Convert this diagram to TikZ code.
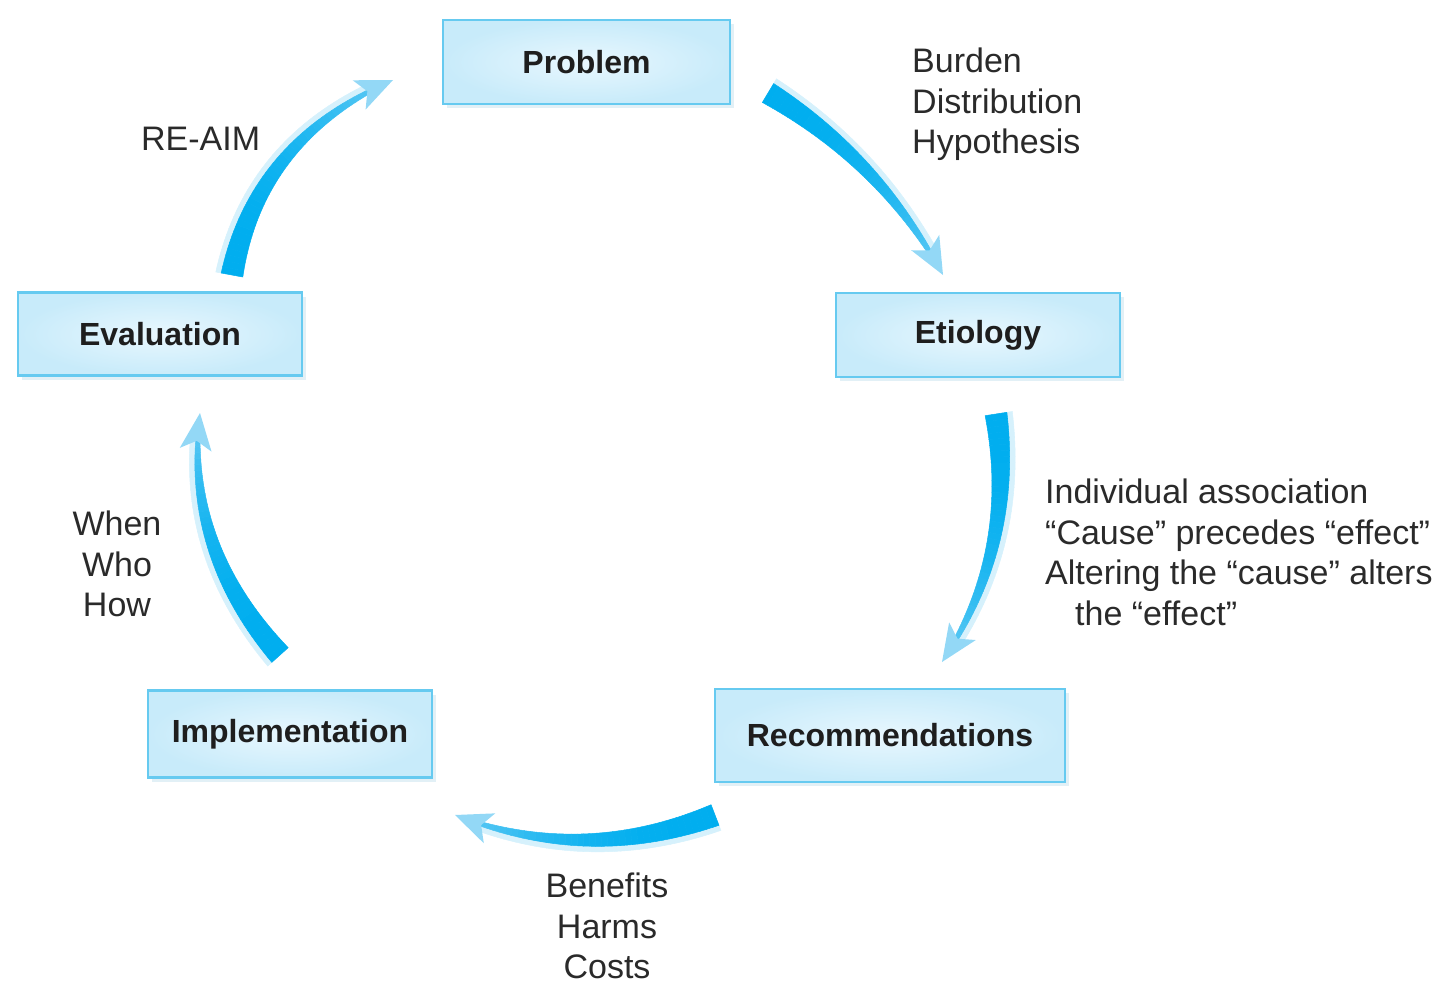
\documentclass[tikz,border=0pt]{standalone}
\usepackage{fontspec}
\setmainfont{Liberation Sans}
\usetikzlibrary{shadows}
\definecolor{arrowmain}{HTML}{00AEEF}
\definecolor{arrowlight}{HTML}{93D8F6}
\definecolor{zhalo}{HTML}{D6F1FC}
\definecolor{boxborder}{HTML}{66CAF0}
\definecolor{boxin}{HTML}{E8F7FE}
\definecolor{boxout}{HTML}{C8EBFA}
\definecolor{boxshadow}{HTML}{E2F0F6}
\definecolor{txt}{HTML}{2A2A2A}
\definecolor{boxtxt}{HTML}{1E1E1E}
\newcommand{\lblfont}{\fontsize{34}{40.5}\selectfont}
\newcommand{\boxfont}{\fontsize{32}{38}\selectfont\bfseries}
\newdimen\zdim
\newcommand{\zgetxy}[3]{%
  \pgfextractx{\zdim}{\pgfpointanchor{#1}{center}}\pgfmathsetmacro#2{\zdim}%
  \pgfextracty{\zdim}{\pgfpointanchor{#1}{center}}\pgfmathsetmacro#3{\zdim}}
\newcommand{\zwa}{11}
\newcommand{\zwb}{2}
\newcommand{\zend}{0.92}
\newcommand{\zbez}[1]{%
  \pgfmathsetmacro\zt{#1}%
  \pgfmathsetmacro\zPx{(1-\zt)*(1-\zt)*(\zAx)+2*\zt*(1-\zt)*(\zBx)+\zt*\zt*(\zCx)}%
  \pgfmathsetmacro\zPy{(1-\zt)*(1-\zt)*(\zAy)+2*\zt*(1-\zt)*(\zBy)+\zt*\zt*(\zCy)}%
  \pgfmathsetmacro\zDx{(1-\zt)*((\zBx)-(\zAx))/50+\zt*((\zCx)-(\zBx))/50}%
  \pgfmathsetmacro\zDy{(1-\zt)*((\zBy)-(\zAy))/50+\zt*((\zCy)-(\zBy))/50}%
  \pgfmathsetmacro\zL{sqrt((\zDx)*(\zDx)+(\zDy)*(\zDy))}%
  \pgfmathsetmacro\zNx{(-1)*(\zDy)/\zL}%
  \pgfmathsetmacro\zNy{(\zDx)/\zL}%
  \pgfmathsetmacro\zW{\zwa+(\zwb-\zwa)*\zt/\zend}}
\newcommand{\zsave}{\let\zaPx\zPx\let\zaPy\zPy\let\zaNx\zNx\let\zaNy\zNy\let\zaW\zW}
\newcommand{\zquad}[3]{%
  \pgfmathsetmacro\zxA{(\zaPx)+(\zaNx)*(#2+\zaW+#3)}%
  \pgfmathsetmacro\zyA{(\zaPy)+(\zaNy)*(#2+\zaW+#3)}%
  \pgfmathsetmacro\zxB{(\zPx)+(\zNx)*(#2+\zW+#3)}%
  \pgfmathsetmacro\zyB{(\zPy)+(\zNy)*(#2+\zW+#3)}%
  \pgfmathsetmacro\zxC{(\zPx)+(\zNx)*(#2-\zW-#3)}%
  \pgfmathsetmacro\zyC{(\zPy)+(\zNy)*(#2-\zW-#3)}%
  \pgfmathsetmacro\zxD{(\zaPx)+(\zaNx)*(#2-\zaW-#3)}%
  \pgfmathsetmacro\zyD{(\zaPy)+(\zaNy)*(#2-\zaW-#3)}%
  \fill[#1] (\zxA pt,\zyA pt) -- (\zxB pt,\zyB pt) -- (\zxC pt,\zyC pt) -- (\zxD pt,\zyD pt) -- cycle;}
\newcommand{\taperarrow}[3]{%
  \zgetxy{#1}\zAx\zAy\zgetxy{#2}\zBx\zBy\zgetxy{#3}\zCx\zCy
  \foreach \zi in {0,...,39}{%
    \zbez{\zend*\zi/40}\zsave
    \zbez{\zend*(\zi+1)/40}%
    \zquad{fill=zhalo, draw=zhalo, line width=0.5pt}{4}{1.5}}%
  \foreach \zi in {0,...,39}{%
    \zbez{\zend*\zi/40}\zsave
    \zbez{\zend*(\zi+1)/40}%
    \pgfmathtruncatemacro\zpc{100-60*(\zi/40)^2.5}%
    \zquad{fill=arrowmain!\zpc!arrowlight, draw=arrowmain!\zpc!arrowlight, line width=0.5pt}{0}{0}}%
  \pgfmathsetmacro\zux{((\zCx)-(\zBx))/50}%
  \pgfmathsetmacro\zuy{((\zCy)-(\zBy))/50}%
  \pgfmathsetmacro\zul{sqrt((\zux)*(\zux)+(\zuy)*(\zuy))}%
  \pgfmathsetmacro\zux{(\zux)/\zul}%
  \pgfmathsetmacro\zuy{(\zuy)/\zul}%
  \pgfmathsetmacro\zhLx{(\zCx)-37*(\zux)-16*(\zuy)}%
  \pgfmathsetmacro\zhLy{(\zCy)-37*(\zuy)+16*(\zux)}%
  \pgfmathsetmacro\zhRx{(\zCx)-37*(\zux)+16*(\zuy)}%
  \pgfmathsetmacro\zhRy{(\zCy)-37*(\zuy)-16*(\zux)}%
  \pgfmathsetmacro\zhNx{(\zCx)-28*(\zux)}%
  \pgfmathsetmacro\zhNy{(\zCy)-28*(\zuy)}%
  \fill[arrowlight] (#3) -- (\zhLx pt,\zhLy pt) -- (\zhNx pt,\zhNy pt) -- (\zhRx pt,\zhRy pt) -- cycle;}
\begin{document}
\begin{tikzpicture}[x=1pt,y=-1pt,
  box/.style={draw=boxborder, line width=2.5pt, inner color=boxin, outer color=boxout,
    font=\boxfont, text=boxtxt, inner sep=0pt,
    drop shadow={shadow xshift=4pt, shadow yshift=-4pt, fill=boxshadow, opacity=1}},
  lbl/.style={font=\lblfont, text=txt, inner sep=0pt, align=left}]
\useasboundingbox (0,0) rectangle (1440,990);
% boxes
\node[box, minimum width=287pt, minimum height=84pt] (prob) at (586.5,62) {Problem};
\node[box, minimum width=284pt, minimum height=84pt] (etio) at (978,335) {Etiology};
\node[box, minimum width=350pt, minimum height=93pt] (reco) at (890,735.5) {Recommendations};
\node[box, minimum width=284pt, minimum height=87pt] (impl) at (290,734) {Implementation};
\node[box, minimum width=284pt, minimum height=83pt] (eval) at (160,334) {Evaluation};
% arrow geometry
\coordinate (a1s) at (768,93);  \coordinate (a1c) at (880,160);  \coordinate (a1e) at (943,275);
\coordinate (a2s) at (996,414); \coordinate (a2c) at (1017,549); \coordinate (a2e) at (942,662);
\coordinate (a3s) at (715,815); \coordinate (a3c) at (585,865);  \coordinate (a3e) at (455,815);
\coordinate (a4s) at (280,655); \coordinate (a4c) at (184,548);  \coordinate (a4e) at (200,413);
\coordinate (a5s) at (232,275); \coordinate (a5c) at (257,140);  \coordinate (a5e) at (393,80);
\taperarrow{a1s}{a1c}{a1e}
\taperarrow{a2s}{a2c}{a2e}
\taperarrow{a3s}{a3c}{a3e}
\taperarrow{a4s}{a4c}{a4e}
\taperarrow{a5s}{a5c}{a5e}
% labels
\node[lbl, anchor=north west] (lab1) at (912,48) {Burden\\Distribution\\Hypothesis};
\node[lbl, anchor=north west] (lab2) at (1045,479) {Individual association\\“Cause” precedes “effect”\\Altering the “cause” alters\\\hspace*{30pt}the “effect”};
\node[lbl, align=center, anchor=north] (lab3) at (607,873) {Benefits\\Harms\\Costs};
\node[lbl, align=center, anchor=north] (lab4) at (117,511) {When\\Who\\How};
\node[lbl, anchor=base west] (lab5) at (141,150) {RE-AIM};
\end{tikzpicture}
\end{document}
